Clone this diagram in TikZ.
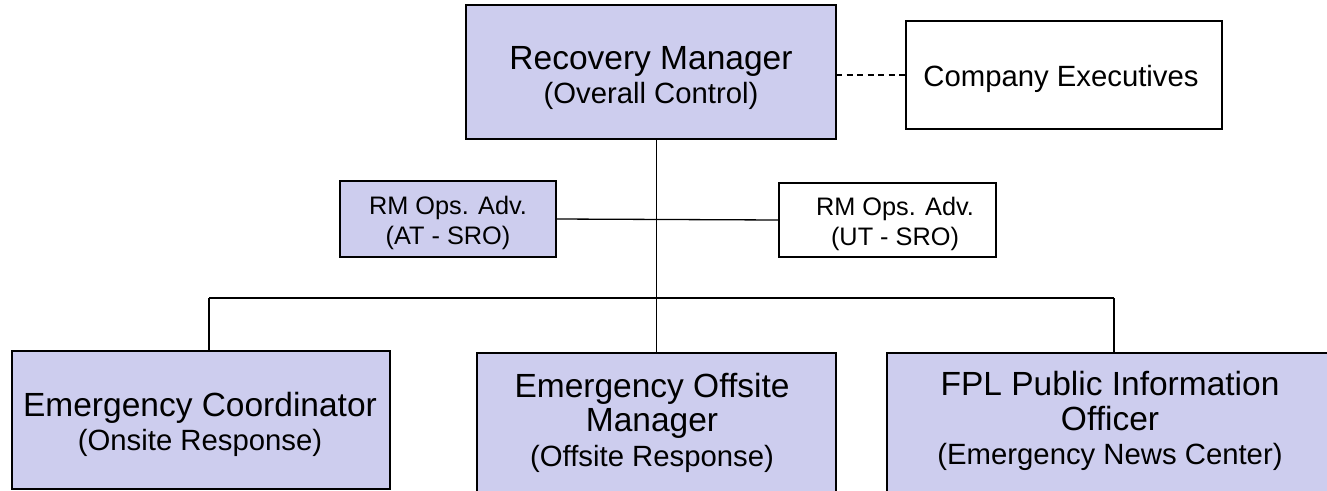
\documentclass[tikz,border=0pt]{standalone}
\usepackage{fontspec}
\setmainfont{Liberation Sans}
\definecolor{lav}{RGB}{205,205,238}
\newcommand\fsTitle{\fontsize{33.5}{34}\selectfont}
\newcommand\fsSub{\fontsize{29.3}{30}\selectfont}
\newcommand\fsSmall{\fontsize{25.3}{26}\selectfont}
\begin{document}
\begin{tikzpicture}[x=1pt,y=-1pt,
  orgbox/.style={draw=black, line width=1.5pt, rectangle, inner sep=0pt, outer sep=0pt, anchor=north west},
  filled/.style={orgbox, fill=lav},
  plain/.style={orgbox, fill=white},
  lbl/.style={anchor=base, inner sep=0pt, text=black},
  conn/.style={line width=1.3pt, draw=black},
  dashconn/.style={line width=1.2pt, draw=black, dash pattern=on 6pt off 4.5pt}]
\useasboundingbox (0,0) rectangle (1327,490);
\clip (0,0) rectangle (1327,490);
\fill[white] (0,0) rectangle (1327,490);
% boxes
\node[filled, minimum width=370pt, minimum height=134pt] (rm) at (466,5) {};
\node[plain, minimum width=316pt, minimum height=108pt] (ce) at (906,21) {};
\node[filled, minimum width=216pt, minimum height=76pt] (at) at (340,181) {};
\node[plain, minimum width=217pt, minimum height=74pt] (ut) at (779,183) {};
\node[filled, minimum width=378pt, minimum height=138pt] (ec) at (12,351) {};
\node[filled, minimum width=359pt, minimum height=160pt] (eom) at (477,353) {};
\node[filled, minimum width=460pt, minimum height=160pt] (fpl) at (887,353) {};
% connectors
\coordinate (jl) at (209,298);
\coordinate (jr) at (1114,298);
\draw[dashconn] (ce.west -| rm.east) -- (ce.west);
\draw[conn] (eom.north |- rm.south) -- (eom.north);
\draw[conn] (at.east) -- (ut.west);
\draw[conn] (jl) -- (jr);
\draw[conn] (jl) -- (jl |- ec.north);
\draw[conn] (jr) -- (jr |- fpl.north);
% labels
\node[lbl] (rmA) at (651,69) {\fsTitle Recovery Manager};
\node[lbl] (rmB) at (651,103) {\fsSub (Overall Control)};
\node[lbl] (ceA) at (1061,86) {\fsSub Company Executives};
\node[lbl] (atA) at (448,214) {\fsSmall RM Ops. Adv.};
\node[lbl] (atB) at (448,244) {\fsSmall (AT - SRO)};
\node[lbl] (utA) at (895,215) {\fsSmall RM Ops. Adv.};
\node[lbl] (utB) at (895,245) {\fsSmall (UT - SRO)};
\node[lbl] (ecA) at (200,416) {\fsTitle Emergency Coordinator};
\node[lbl] (ecB) at (200,450) {\fsSub (Onsite Response)};
\node[lbl] (eomA) at (652,397) {\fsTitle Emergency Offsite};
\node[lbl] (eomB) at (652,431) {\fsTitle Manager};
\node[lbl] (eomC) at (652,466) {\fsSub (Offsite Response)};
\node[lbl] (fplA) at (1110,395) {\fsTitle FPL Public Information};
\node[lbl] (fplB) at (1110,430) {\fsTitle Officer};
\node[lbl] (fplC) at (1110,464) {\fsSub (Emergency News Center)};
\end{tikzpicture}
\end{document}
